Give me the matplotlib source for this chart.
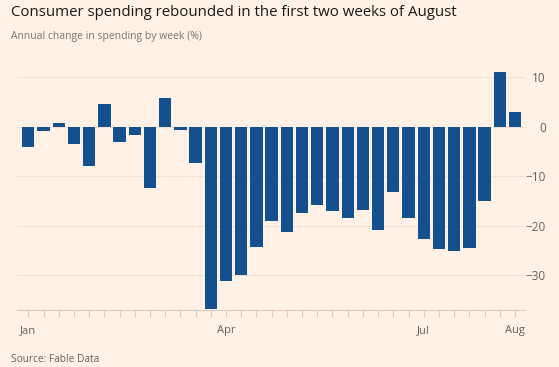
import matplotlib
matplotlib.use('Agg')
import matplotlib.pyplot as plt

# weekly annual change in spending, %
weeks = list(range(1, 34))
values = [-4.0, -0.9, 0.7, -3.5, -8.0, 4.7, -3.1, -1.6, -12.3, 5.9, -0.7,
          -7.3, -36.7, -31.2, -29.9, -24.2, -19.1, -21.3, -17.5, -15.7, -17.0,
          -18.5, -16.8, -20.8, -13.1, -18.4, -22.7, -24.7, -25.0, -24.5,
          -15.0, 11.0, 2.9]
month_weeks = [1, 14, 27, 33]
month_labels = ['Jan', 'Apr', 'Jul', 'Aug']
y_ticks = [10, 0, -10, -20, -30]

bg = '#FFF1E5'
bar_col = '#14508E'
grey = '#66605C'

plt.rcParams['font.family'] = ['Open Sans', 'DejaVu Sans']

fig = plt.figure(figsize=(5.59, 3.67), dpi=100, facecolor=bg)
ax = fig.add_axes([0.0299, 0.1553, 0.9093, 0.6744], facecolor=bg)

ax.bar(weeks, values, width=0.81, color=bar_col, zorder=3)

ax.set_xlim(weeks[0] - 0.763, weeks[-1] + 0.66)
ax.set_ylim(-37, 13)

ax.set_yticks(y_ticks)
ax.yaxis.tick_right()
ax.tick_params(axis='y', length=0, pad=15, labelsize=8.5, labelcolor=grey)
for lab in ax.get_yticklabels():
    lab.set_horizontalalignment('right')
ax.grid(axis='y', color='#F0E1D4', lw=0.8, zorder=0)

ax.set_xticks(weeks, minor=True)
ax.set_xticks(month_weeks)
ax.set_xticklabels(month_labels)
ax.tick_params(axis='x', which='both', length=5, color='#D9CCC1', width=0.8)
ax.tick_params(axis='x', which='major', pad=6, labelsize=8, labelcolor=grey)

for s in ['top', 'left', 'right']:
    ax.spines[s].set_visible(False)
ax.spines['bottom'].set_color('#D9CCC1')
ax.spines['bottom'].set_linewidth(0.8)

fig.text(11 / 559, 1 - 16 / 367, 'Consumer spending rebounded in the first two weeks of August',
         fontsize=10.85, color='#1A1817', va='baseline')
fig.text(11 / 559, 1 - 39.5 / 367, 'Annual change in spending by week (%)',
         fontsize=7.5, color='#7A7571', va='baseline')
fig.text(11 / 559, 1 - 361.5 / 367, 'Source: Fable Data',
         fontsize=7.3, color=grey, va='baseline')

fig.savefig('out.png', dpi=100, facecolor=bg)
